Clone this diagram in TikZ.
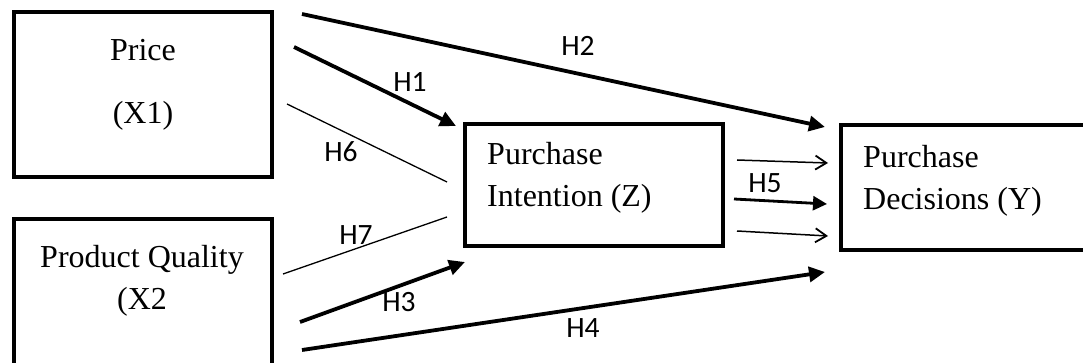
\documentclass[tikz,border=0pt]{standalone}
\usepackage{fontspec}
\setmainfont{Liberation Serif}
\newfontfamily\hfont{Carlito}
\usetikzlibrary{arrows.meta}
\begin{document}
\begin{tikzpicture}[x=1pt,y=-1pt,
  box/.style={draw, line width=4pt, inner sep=0pt},
  boxtext/.style={font=\fontsize{32}{38}\selectfont, inner sep=0pt},
  hlab/.style={font=\hfont\fontsize{29.5}{34}\selectfont, inner sep=0pt},
  strongarr/.style={line width=3.8pt, -{Triangle[length=16pt,width=15pt]}},
  midarr/.style={line width=2.8pt, -{Triangle[length=14pt,width=14pt]}},
  thinarr/.style={line width=1.5pt, -{Straight Barb[length=11pt,width=14pt,line width=1.8pt]}},
  thinline/.style={line width=1.3pt}
]
\useasboundingbox (0,0) rectangle (1083,363);
\clip (0,0) rectangle (1083,363);
\fill[white] (0,0) rectangle (1083,363);

% boxes
\node[box, minimum width=258pt, minimum height=165pt] (X1) at (143,94.5) {};
\node[box, minimum width=258pt, minimum height=190pt] (X2) at (143,314) {};
\node[box, minimum width=258pt, minimum height=122pt] (Z) at (594,185) {};
\node[box, minimum width=290pt, minimum height=124.5pt] (Y) at (986,187.25) {};

% box texts
\node[boxtext, anchor=base] (priceT) at (143,61) {Price};
\node[boxtext, anchor=base] (x1T) at (143,124) {(X1)};
\node[boxtext, anchor=base] (pqT) at (142,267) {Product Quality};
\node[boxtext, anchor=base] (x2T) at (142,309) {(X2};
\node[boxtext, anchor=base west] (zpT) at (487,165) {Purchase};
\node[boxtext, anchor=base west] (ziT) at (487,207) {Intention (Z)};
\node[boxtext, anchor=base west] (ypT) at (863,168) {Purchase};
\node[boxtext, anchor=base west] (ydT) at (863,210) {Decisions (Y)};

% connector end points
\coordinate (h2s) at (302,14);  \coordinate (h2e) at (825,127);
\coordinate (h1s) at (294,47);  \coordinate (h1e) at (456,126);
\coordinate (h6s) at (287,104); \coordinate (h6e) at (447,182);
\coordinate (h7s) at (283,274); \coordinate (h7e) at (447,217);
\coordinate (h3s) at (300,322); \coordinate (h3e) at (465,262);
\coordinate (h4s) at (302,350); \coordinate (h4e) at (825,272);
\coordinate (h5as) at (737,160); \coordinate (h5ae) at (828,163);
\coordinate (h5bs) at (734,199); \coordinate (h5be) at (827,204);
\coordinate (h5cs) at (737,231); \coordinate (h5ce) at (828,236);

% connectors
\draw[strongarr] (h2s) -- (h2e);
\draw[strongarr] (h1s) -- (h1e);
\draw[thinline] (h6s) -- (h6e);
\draw[thinline] (h7s) -- (h7e);
\draw[strongarr] (h3s) -- (h3e);
\draw[strongarr] (h4s) -- (h4e);
\draw[thinarr] (h5as) -- (h5ae);
\draw[midarr] (h5bs) -- (h5be);
\draw[thinarr] (h5cs) -- (h5ce);

% labels
\node[hlab] (lH2) at (578,46) {H2};
\node[hlab] (lH1) at (410,82) {H1};
\node[hlab] (lH6) at (341,152) {H6};
\node[hlab] (lH7) at (356,235) {H7};
\node[hlab] (lH3) at (399,302) {H3};
\node[hlab] (lH4) at (583,328) {H4};
\node[hlab] (lH5) at (765,183) {H5};
\end{tikzpicture}
\end{document}
